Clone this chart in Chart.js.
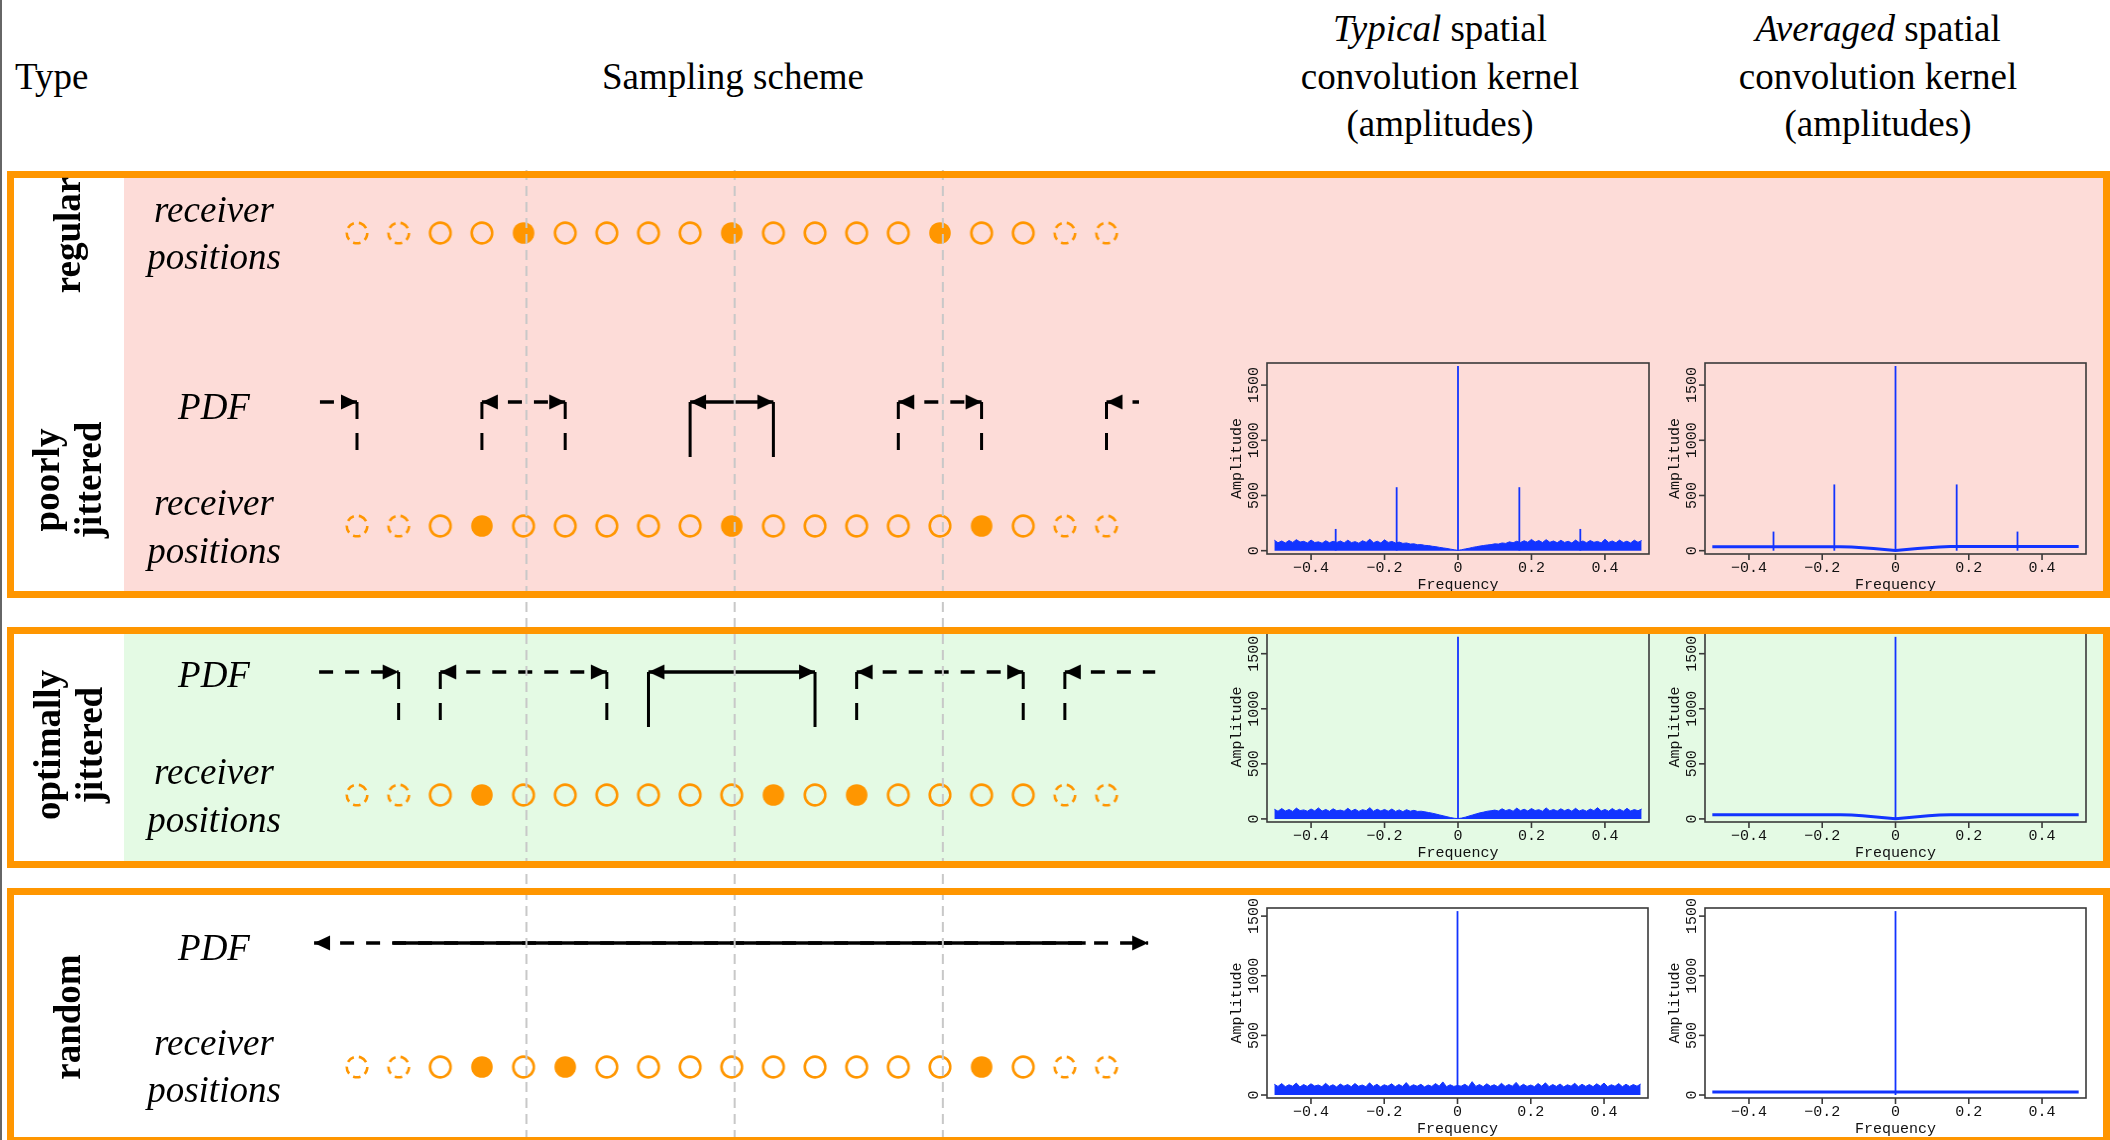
<!DOCTYPE html>
<html>
<head>
<meta charset="utf-8">
<title>Sampling schemes and spatial convolution kernels</title>
<script src="https://cdn.jsdelivr.net/npm/chart.js"></script>
<style>
  body {
    margin: 0;
    width: 2110px;
    height: 1140px;
    position: relative;
    overflow: hidden;
    background: #fff;
    font-family: "Liberation Serif", "Times New Roman", serif;
    color: #000;
  }
  .bg { position: absolute; }
  .box { position: absolute; border: 7px solid #ff9600; box-sizing: border-box; z-index: 3; }
  .lbl { position: absolute; white-space: nowrap; line-height: 1; z-index: 4; }
  .type {
    position: absolute; z-index: 4;
    font-weight: bold; font-size: 37px; line-height: 42px;
    text-align: center; white-space: nowrap;
    transform: translate(-50%, -50%) rotate(-90deg);
  }
  canvas { position: absolute; z-index: 2; }
</style>
</head>
<body>
  <div class="bg" style="left:0;top:0;width:2px;height:1140px;background:#666"></div>
  <div class="bg" style="left:124px;top:178px;width:1979px;height:413px;background:#fddcd8"></div>
  <div class="bg" style="left:124px;top:634px;width:1979px;height:227px;background:#e4fae4"></div>

  <div class="box" style="left:7px;top:171px;width:2103px;height:427px"></div>
  <div class="box" style="left:7px;top:627px;width:2103px;height:241px"></div>
  <div class="box" style="left:7px;top:888px;width:2103px;height:256px"></div>

  <div class="type" style="left:68px;top:235px">regular</div>
  <div class="type" style="left:68px;top:480px">poorly<br>jittered</div>
  <div class="type" style="left:69px;top:745px">optimally<br>jittered</div>
  <div class="type" style="left:68px;top:1017px">random</div>

  <canvas id="scheme" width="880" height="975" style="left:290px;top:165px"></canvas>
  <canvas id="pTyp" width="426" height="253" style="left:1225px;top:343px"></canvas>
  <canvas id="pAvg" width="425" height="253" style="left:1663px;top:343px"></canvas>
  <canvas id="oTyp" width="426" height="252" style="left:1225px;top:612px"></canvas>
  <canvas id="oAvg" width="425" height="252" style="left:1663px;top:612px"></canvas>
  <canvas id="rTyp" width="425" height="252" style="left:1225px;top:888px"></canvas>
  <canvas id="rAvg" width="425" height="252" style="left:1663px;top:888px"></canvas>

<script>
// ---- sampling scheme data (receiver index along the line) ----
const receivers = [0, 1, 2, 3, 4, 5, 6, 7, 8, 9, 10, 11, 12, 13, 14, 15, 16, 17, 18];
const outsideReceivers = [0, 1, 17, 18];          // drawn dashed
const selRegular = [4, 9, 14];
const selPoorly = [3, 9, 15];
const selOptimal = [3, 10, 12];
const selRandom = [3, 5, 15];
const gridLines = [4.07, 9.07, 14.07];

// PDF intervals (lower / upper edge, in receiver units)
const poorlyPdfLo = [-2, 3, 8, 13, 18];
const poorlyPdfHi = [0, 5, 10, 15, 20];
const poorlySolidLo = 8;
const poorlyView = [-0.89, 18.78];
const optimalPdfLo = [-3, 2, 7, 12, 17];
const optimalPdfHi = [1, 6, 11, 16, 21];
const optimalSolidLo = 7;
const optimalView = [-0.91, 19.17];
const randomPdf = [-1.03, 19.0];
const randomSolid = [0.87, 17.5];

// ---- spectra ----
const freq = [-0.50, -0.49, -0.48, -0.47, -0.46, -0.45, -0.44, -0.43, -0.42, -0.41,
  -0.40, -0.39, -0.38, -0.37, -0.36, -0.35, -0.34, -0.33, -0.32, -0.31,
  -0.30, -0.29, -0.28, -0.27, -0.26, -0.25, -0.24, -0.23, -0.22, -0.21,
  -0.20, -0.19, -0.18, -0.17, -0.16, -0.15, -0.14, -0.13, -0.12, -0.11,
  -0.10, -0.09, -0.08, -0.07, -0.06, -0.05, -0.04, -0.03, -0.02, -0.01,
  0.00, 0.01, 0.02, 0.03, 0.04, 0.05, 0.06, 0.07, 0.08, 0.09,
  0.10, 0.11, 0.12, 0.13, 0.14, 0.15, 0.16, 0.17, 0.18, 0.19,
  0.20, 0.21, 0.22, 0.23, 0.24, 0.25, 0.26, 0.27, 0.28, 0.29,
  0.30, 0.31, 0.32, 0.33, 0.34, 0.35, 0.36, 0.37, 0.38, 0.39,
  0.40, 0.41, 0.42, 0.43, 0.44, 0.45, 0.46, 0.47, 0.48, 0.49, 0.50];

const poorlyTypical = [95, 72, 88, 70, 92, 75, 100, 78, 85, 70, 96, 74, 80, 68, 90, 72, 85, 75, 88, 70,
  95, 73, 82, 68, 90, 76, 104, 72, 86, 70, 98, 75, 84, 70, 78, 66, 70, 60, 62, 54,
  55, 48, 46, 40, 36, 30, 25, 20, 14, 8, 3, 9, 16, 22, 30, 36, 42, 47, 52, 55,
  62, 60, 70, 66, 80, 72, 86, 74, 90, 76, 102, 78, 92, 74, 100, 76, 88, 72, 94, 75,
  85, 70, 96, 74, 88, 72, 92, 76, 84, 70, 104, 75, 88, 72, 96, 74, 86, 70, 95, 76, 92];
const optimalTypical = [88, 70, 94, 72, 85, 68, 98, 75, 82, 70, 90, 73, 100, 71, 86, 69, 92, 74, 80, 70,
  96, 72, 88, 68, 84, 75, 102, 70, 88, 72, 86, 70, 90, 68, 82, 66, 84, 70, 78, 68,
  70, 64, 58, 52, 44, 36, 28, 20, 12, 6, 3, 8, 16, 26, 36, 46, 55, 62, 70, 74,
  80, 72, 92, 75, 86, 70, 98, 74, 88, 72, 94, 76, 84, 70, 100, 73, 86, 71, 92, 74,
  88, 70, 96, 72, 84, 70, 90, 75, 102, 72, 86, 70, 94, 73, 88, 70, 96, 72, 85, 74, 90];
const randomTypical = [90, 72, 96, 70, 86, 74, 100, 68, 88, 72, 94, 75, 84, 70, 98, 72, 86, 68, 92, 74,
  88, 70, 96, 73, 84, 70, 102, 72, 90, 68, 86, 74, 94, 70, 88, 72, 104, 70, 86, 73,
  90, 68, 84, 72, 96, 74, 110, 70, 86, 72, 80, 74, 90, 70, 112, 72, 88, 70, 94, 73,
  86, 70, 98, 72, 88, 74, 106, 70, 90, 72, 84, 70, 96, 74, 102, 70, 88, 72, 92, 68,
  86, 74, 98, 70, 90, 72, 88, 70, 94, 74, 100, 70, 86, 73, 96, 70, 90, 72, 88, 74, 92];

const avgFreq = [-0.50, -0.15, -0.12, -0.09, -0.06, -0.03, 0.00, 0.03, 0.06, 0.09, 0.12, 0.15, 0.50];
const poorlyAveraged = [36, 36, 33, 27, 19, 10, 1, 10, 19, 27, 33, 37, 37];
const optimalAveraged = [38, 38, 35, 29, 20, 11, 1, 11, 20, 29, 35, 38, 38];
const randomAvgFreq = [-0.50, 0.50];
const randomAveraged = [26, 26];

const poorlyTypSpikeF = [-0.333, -0.167, 0, 0.167, 0.333];
const poorlyTypSpikeA = [197, 575, 1673, 575, 197];
const poorlyAvgSpikeF = [-0.333, -0.167, 0, 0.167, 0.333];
const poorlyAvgSpikeA = [173, 600, 1673, 600, 173];
const optimalSpikeF = [0];
const optimalSpikeA = [1653];
const randomSpikeF = [0];
const randomSpikeA = [1542];

const xTicks = [-0.4, -0.2, 0, 0.2, 0.4];
const xTickText = ['\u22120.4', '\u22120.2', '0', '0.2', '0.4'];
const yTicks = [0, 500, 1000, 1500];
const yTickText = ['0', '500', '1000', '1500'];

const ORANGE = '#ff9600';
const BLUE = 'rgb(18,52,255)';

// ---- text labels ----
function label(html, x, base, size, align) {
  const d = document.createElement('div');
  d.className = 'lbl';
  d.innerHTML = html;
  d.style.fontSize = size + 'px';
  d.style.left = x + 'px';
  d.style.top = (base - 0.8375 * size) + 'px';
  if (align === 'center') d.style.transform = 'translateX(-50%)';
  document.body.appendChild(d);
}
label('Type', 15, 88.5, 37);
label('Sampling scheme', 733, 89, 37, 'center');
label('<i>Typical</i> spatial', 1440, 41, 37, 'center');
label('convolution kernel', 1440, 88.5, 37, 'center');
label('(amplitudes)', 1440, 135.5, 37, 'center');
label('<i>Averaged</i> spatial', 1878, 41, 37, 'center');
label('convolution kernel', 1878, 88.5, 37, 'center');
label('(amplitudes)', 1878, 135.5, 37, 'center');
[[221.5, 269], [514.5, 563], [783.5, 831.5], [1055, 1102]].forEach(([r, p]) => {
  label('<i>receiver</i>', 214, r, 37, 'center');
  label('<i>positions</i>', 214, p, 37, 'center');
});
[418.5, 687, 960].forEach(b => label('<i>PDF</i>', 214, b, 37, 'center'));

// ---- marker images ----
function ring(dashed) {
  const c = document.createElement('canvas');
  c.width = 30; c.height = 30;
  const g = c.getContext('2d');
  g.strokeStyle = ORANGE; g.lineWidth = 2.6;
  if (dashed) g.setLineDash([7.5, 5]);
  g.beginPath(); g.arc(15, 15, 10.3, -Math.PI / 2 + 0.35, 1.5 * Math.PI + 0.35); g.stroke();
  return c;
}
function dot() {
  const c = document.createElement('canvas');
  c.width = 30; c.height = 30;
  const g = c.getContext('2d');
  g.fillStyle = ORANGE;
  g.beginPath(); g.arc(15, 15, 10.8, 0, Math.PI * 2); g.fill();
  return c;
}
function arrowHead() {
  // tip sits at the image centre, so the point value is the tip position
  const c = document.createElement('canvas');
  c.width = 34; c.height = 16;
  const g = c.getContext('2d');
  g.fillStyle = '#000';
  g.beginPath(); g.moveTo(1, 0.5); g.lineTo(17, 8); g.lineTo(1, 15.5); g.closePath(); g.fill();
  return c;
}
const openRing = ring(false), dashRing = ring(true), filledDot = dot(), head = arrowHead();

// ---- sampling scheme chart ----
const rowLevel = {
  regular: { rec: 0.68 },
  poorly: { pdf: 2.37, rec: 3.61 },
  optimal: { pdf: 5.07, rec: 6.30 },
  random: { pdf: 7.78, rec: 9.02 }
};
const H_DASH = [14, 12], V_DASH = [17, 14];

function seg(points, dash, width, order) {
  return { data: points, showLine: true, borderColor: '#000', borderWidth: width,
    borderDash: dash, borderCapStyle: 'butt', pointRadius: 0, order: order };
}
function heads(xs, y, rot) {
  return { data: xs.map(x => ({ x: x, y: y })), showLine: false, pointStyle: head,
    pointRadius: 4, pointRotation: rot, order: 2 };
}
function receiverRow(sel, y) {
  return {
    data: receivers.map(i => ({ x: i, y: y })),
    showLine: false, pointRadius: 11, order: 1,
    pointStyle: ctx => sel.includes(receivers[ctx.dataIndex]) ? filledDot
      : outsideReceivers.includes(receivers[ctx.dataIndex]) ? dashRing : openRing
  };
}
function jitterPdf(lo, hi, solidLo, view, y) {
  const out = [];
  lo.forEach((a, k) => {
    const b = hi[k];
    const solid = a === solidLo;
    out.push(seg([{ x: Math.max(a, view[0]), y: y }, { x: Math.min(b, view[1]), y: y }],
      solid ? [] : H_DASH, 3.5, 3));
    [a, b].forEach((e, side) => {
      if (e < view[0] || e > view[1]) return;
      out.push(seg([{ x: e, y: y }, { x: e, y: y + (solid ? 0.55 : 0.5) }], solid ? [] : V_DASH, 3, 3));
      out.push(heads([e], y, side === 0 ? 180 : 0));
    });
  });
  return out;
}

const schemeSets = [];
gridLines.forEach(g => schemeSets.push({
  data: [{ x: g, y: 0.05 }, { x: g, y: 9.75 }], showLine: true, borderColor: '#c8c8c8',
  borderWidth: 2, borderDash: [10, 6], pointRadius: 0, order: 0
}));
schemeSets.push(receiverRow(selRegular, rowLevel.regular.rec));
schemeSets.push(receiverRow(selPoorly, rowLevel.poorly.rec));
schemeSets.push(receiverRow(selOptimal, rowLevel.optimal.rec));
schemeSets.push(receiverRow(selRandom, rowLevel.random.rec));
schemeSets.push(...jitterPdf(poorlyPdfLo, poorlyPdfHi, poorlySolidLo, poorlyView, rowLevel.poorly.pdf));
schemeSets.push(...jitterPdf(optimalPdfLo, optimalPdfHi, optimalSolidLo, optimalView, rowLevel.optimal.pdf));
schemeSets.push(seg([{ x: randomPdf[0], y: rowLevel.random.pdf }, { x: randomPdf[1], y: rowLevel.random.pdf }], H_DASH, 3.5, 3));
schemeSets.push(seg([{ x: randomSolid[0], y: rowLevel.random.pdf }, { x: randomSolid[1], y: rowLevel.random.pdf }], [], 3.5, 3));
schemeSets.push(heads([randomPdf[0]], rowLevel.random.pdf, 180));
schemeSets.push(heads([randomPdf[1]], rowLevel.random.pdf, 0));

new Chart(document.getElementById('scheme'), {
  type: 'scatter',
  data: { datasets: schemeSets },
  options: {
    responsive: false, animation: false, events: [],
    layout: { padding: 0, autoPadding: false },
    plugins: { legend: { display: false }, tooltip: { enabled: false } },
    scales: {
      x: { type: 'linear', min: -1.609, max: 19.525, display: false },
      y: { type: 'linear', min: 0, max: 9.75, reverse: true, display: false }
    }
  }
});

// ---- R style spectrum plots ----
const rAxes = {
  id: 'rAxes',
  afterDatasetsDraw(chart) {
    const { ctx, chartArea: a, scales: { x, y } } = chart;
    ctx.save();
    ctx.strokeStyle = '#3a3a3a';
    ctx.lineWidth = 1.6;
    ctx.strokeRect(a.left, a.top, a.right - a.left, a.bottom - a.top);
    ctx.fillStyle = '#111';
    ctx.font = '15px "Liberation Mono", monospace';
    ctx.textAlign = 'center';
    ctx.textBaseline = 'middle';
    xTicks.forEach((v, i) => {
      const px = x.getPixelForValue(v);
      ctx.beginPath(); ctx.moveTo(px, a.bottom); ctx.lineTo(px, a.bottom + 6); ctx.stroke();
      ctx.fillText(xTickText[i], px, a.bottom + 14);
    });
    ctx.fillText('Frequency', (a.left + a.right) / 2, a.bottom + 31);
    yTicks.forEach((v, i) => {
      const py = y.getPixelForValue(v);
      ctx.beginPath(); ctx.moveTo(a.left, py); ctx.lineTo(a.left - 6, py); ctx.stroke();
      ctx.save(); ctx.translate(a.left - 13, py); ctx.rotate(-Math.PI / 2);
      ctx.fillText(yTickText[i], 0, 0); ctx.restore();
    });
    ctx.translate(a.left - 30, (a.top + a.bottom) / 2);
    ctx.rotate(-Math.PI / 2);
    ctx.fillText('Amplitude', 0, 0);
    ctx.restore();
  }
};

function spikes(fs, amps) {
  return fs.map((f, i) => ({
    data: [{ x: f, y: 0 }, { x: f, y: amps[i] }], showLine: true, borderColor: BLUE,
    borderWidth: 1.8, pointRadius: 0, order: 0
  }));
}
function band(values) {
  return { data: freq.map((f, i) => ({ x: f, y: values[i] })), showLine: true, borderColor: BLUE,
    backgroundColor: BLUE, borderWidth: 1, fill: 'origin', pointRadius: 0, order: 1 };
}
function avgLine(fs, values) {
  return { data: fs.map((f, i) => ({ x: f, y: values[i] })), showLine: true, borderColor: BLUE,
    borderWidth: 3, pointRadius: 0, order: 1 };
}
function spectrum(id, sets, yMin, yMax) {
  new Chart(document.getElementById(id), {
    type: 'scatter',
    data: { datasets: sets },
    options: {
      responsive: false, animation: false, events: [],
      layout: { padding: { left: 42, right: 2, top: 20, bottom: 42 }, autoPadding: false },
      plugins: { legend: { display: false }, tooltip: { enabled: false } },
      scales: {
        x: { type: 'linear', min: -0.52, max: 0.52, display: false },
        y: { type: 'linear', min: yMin, max: yMax, display: false }
      }
    },
    plugins: [rAxes]
  });
}

spectrum('pTyp', [...spikes(poorlyTypSpikeF, poorlyTypSpikeA), band(poorlyTypical)], -30, 1700);
spectrum('pAvg', [...spikes(poorlyAvgSpikeF, poorlyAvgSpikeA), avgLine(avgFreq, poorlyAveraged)], -30, 1700);
spectrum('oTyp', [...spikes(optimalSpikeF, optimalSpikeA), band(optimalTypical)], -28, 1697);
spectrum('oAvg', [...spikes(optimalSpikeF, optimalSpikeA), avgLine(avgFreq, optimalAveraged)], -28, 1697);
spectrum('rTyp', [...spikes(randomSpikeF, randomSpikeA), band(randomTypical)], -25, 1568);
spectrum('rAvg', [...spikes(randomSpikeF, randomSpikeA), avgLine(randomAvgFreq, randomAveraged)], -25, 1568);
</script>
</body>
</html>
